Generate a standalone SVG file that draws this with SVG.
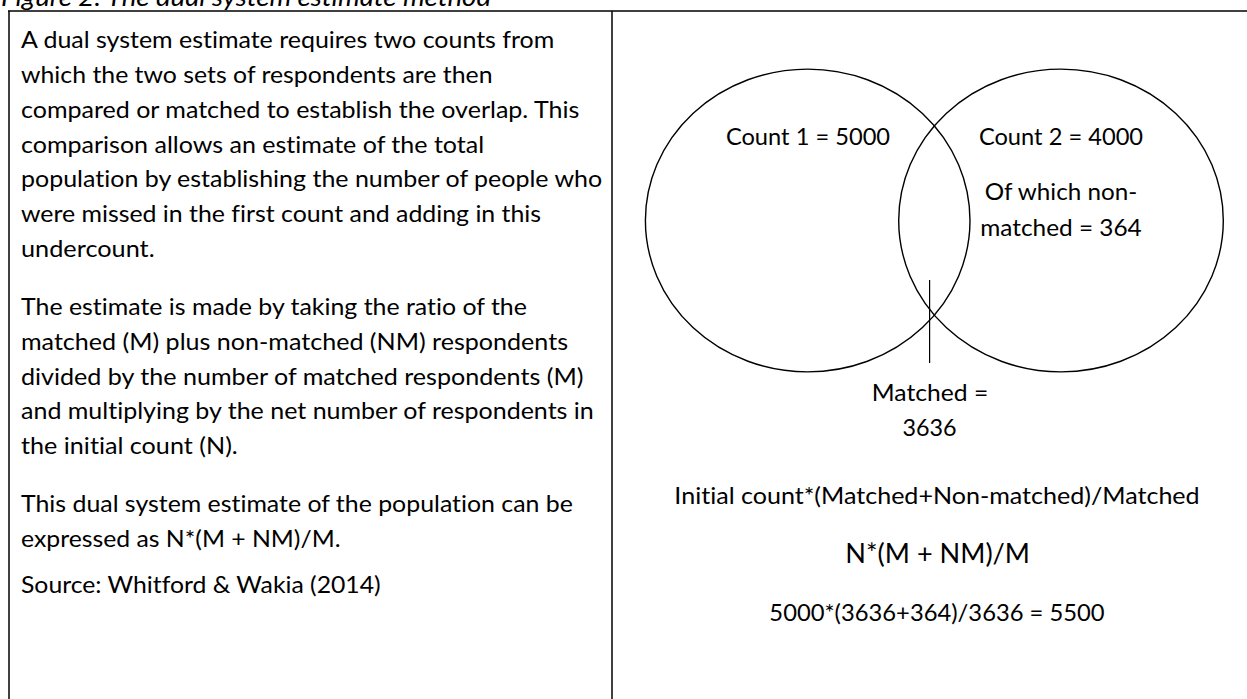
<svg xmlns="http://www.w3.org/2000/svg" width="1247" height="699" viewBox="0 0 1247 699">
<style>
.t{font-family:Lato,"Liberation Sans",sans-serif;font-size:24px;fill:#000;font-variant-ligatures:none}
.c{text-anchor:middle}
.title{font-style:italic;font-size:25px}
.big{font-size:26.4px}
.frame line{stroke:#000;stroke-width:1.5}
.ring{fill:none;stroke:#000;stroke-width:1.4}
.ptr{stroke:#000;stroke-width:1.2}
</style>
<rect width="1247" height="699" fill="#fff"/>
<g id="title">
<text class="t title" x="1" y="5.5" textLength="490" lengthAdjust="spacingAndGlyphs">Figure 2: The dual system estimate method</text>
</g>
<g id="frame" class="frame">
<line x1="8" y1="11" x2="1247" y2="11"/>
<line x1="9" y1="11" x2="9" y2="699"/>
<line x1="612" y1="11" x2="612" y2="699"/>
</g>
<g id="description">
<text class="t" x="21" y="48.3" textLength="533.3" lengthAdjust="spacingAndGlyphs">A dual system estimate requires two counts from</text>
<text class="t" x="21" y="83" textLength="471.5" lengthAdjust="spacingAndGlyphs">which the two sets of respondents are then</text>
<text class="t" x="21" y="117.8" textLength="558.3" lengthAdjust="spacingAndGlyphs">compared or matched to establish the overlap. This</text>
<text class="t" x="21" y="152.5" textLength="463.1" lengthAdjust="spacingAndGlyphs">comparison allows an estimate of the total</text>
<text class="t" x="21" y="187.3" textLength="581.2" lengthAdjust="spacingAndGlyphs">population by establishing the number of people who</text>
<text class="t" x="21" y="222" textLength="520.1" lengthAdjust="spacingAndGlyphs">were missed in the first count and adding in this</text>
<text class="t" x="21" y="256.8" textLength="133.6" lengthAdjust="spacingAndGlyphs">undercount.</text>
<text class="t" x="21" y="315" textLength="505.9" lengthAdjust="spacingAndGlyphs">The estimate is made by taking the ratio of the</text>
<text class="t" x="21" y="349.8" textLength="547" lengthAdjust="spacingAndGlyphs">matched (M) plus non-matched (NM) respondents</text>
<text class="t" x="21" y="384.5" textLength="562.4" lengthAdjust="spacingAndGlyphs">divided by the number of matched respondents (M)</text>
<text class="t" x="21" y="419.3" textLength="572.8" lengthAdjust="spacingAndGlyphs">and multiplying by the net number of respondents in</text>
<text class="t" x="21" y="454" textLength="216.8" lengthAdjust="spacingAndGlyphs">the initial count (N).</text>
<text class="t" x="21" y="512" textLength="551.9" lengthAdjust="spacingAndGlyphs">This dual system estimate of the population can be</text>
<text class="t" x="21" y="546.8" textLength="319.5" lengthAdjust="spacingAndGlyphs">expressed as N*(M + NM)/M.</text>
<text class="t" x="21" y="593" textLength="359.7" lengthAdjust="spacingAndGlyphs">Source: Whitford &amp; Wakia (2014)</text>
</g>
<g id="count1">
<ellipse class="ring" cx="807.7" cy="220.5" rx="162.3" ry="151.4"/>
<text class="t c" x="808" y="145" textLength="164.2" lengthAdjust="spacingAndGlyphs">Count 1 = 5000</text>
</g>
<g id="count2">
<ellipse class="ring" cx="1061" cy="220.5" rx="162.3" ry="151.4"/>
<text class="t c" x="1061" y="145" textLength="164.2" lengthAdjust="spacingAndGlyphs">Count 2 = 4000</text>
<text class="t c" x="1061" y="200" textLength="152.5" lengthAdjust="spacingAndGlyphs">Of which non-</text>
<text class="t c" x="1061" y="236" textLength="161.5" lengthAdjust="spacingAndGlyphs">matched = 364</text>
</g>
<g id="connectors">
<line class="ptr" x1="929.6" y1="280" x2="929.6" y2="363"/>
</g>
<g id="matched">
<text class="t c" x="930" y="401" textLength="116.4" lengthAdjust="spacingAndGlyphs">Matched =</text>
<text class="t c" x="929.5" y="436" textLength="54.1" lengthAdjust="spacingAndGlyphs">3636</text>
</g>
<g id="formula">
<text class="t c" x="937" y="504" textLength="525.3" lengthAdjust="spacingAndGlyphs">Initial count*(Matched+Non-matched)/Matched</text>
<text class="t c big" x="937.7" y="563" textLength="184.7" lengthAdjust="spacingAndGlyphs">N*(M + NM)/M</text>
<text class="t c" x="937" y="621" textLength="335.3" lengthAdjust="spacingAndGlyphs">5000*(3636+364)/3636 = 5500</text>
</g>
</svg>
